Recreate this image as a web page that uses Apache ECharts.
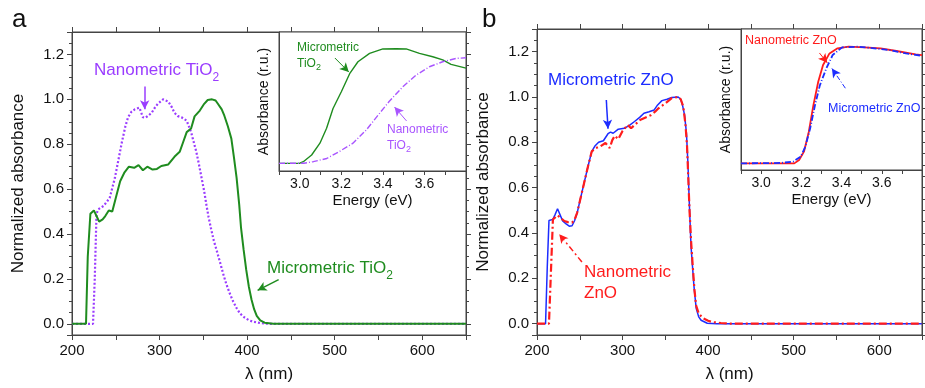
<!DOCTYPE html>
<html>
<head>
<meta charset="utf-8">
<script src="https://cdn.jsdelivr.net/npm/echarts@6/dist/echarts.min.js"></script>
<style>
  html, body { margin: 0; padding: 0; background: #fff; }
  #chart { width: 925px; height: 388px; }
</style>
</head>
<body>
<div id="chart"></div>
<script>
  // main panels: [wavelength nm, normalized absorbance]
  const microTiO2 = [[200, 0], [216, 0], [218, 0.3], [221, 0.49], [225, 0.505], [228, 0.48], [231, 0.455], [235, 0.465], [238, 0.48], [242, 0.505], [246, 0.5], [250, 0.56], [255, 0.635], [260, 0.675], [265, 0.7], [271, 0.695], [276, 0.707], [281, 0.684], [286, 0.7], [292, 0.687], [297, 0.69], [302, 0.703], [310, 0.71], [317, 0.744], [323, 0.766], [327, 0.81], [331, 0.854], [336, 0.87], [340, 0.924], [346, 0.95], [351, 0.98], [355, 0.997], [360, 1.0], [364, 0.995], [367, 0.978], [371, 0.955], [374, 0.927], [378, 0.88], [382, 0.825], [385, 0.74], [388, 0.65], [391, 0.53], [393, 0.43], [396, 0.33], [399, 0.24], [402, 0.165], [405, 0.108], [408, 0.065], [411, 0.035], [415, 0.015], [420, 0.005], [430, 0], [650, 0]];
  const nanoTiO2 = [[200, 0], [224, 0], [226, 0.2], [228, 0.49], [230, 0.51], [236, 0.525], [243, 0.56], [249, 0.65], [253, 0.73], [257, 0.81], [261, 0.88], [264, 0.92], [268, 0.945], [272, 0.956], [277, 0.963], [281, 0.92], [284, 0.918], [288, 0.93], [291, 0.94], [295, 0.965], [298, 0.98], [304, 1.0], [310, 0.99], [314, 0.965], [317, 0.94], [321, 0.925], [325, 0.92], [331, 0.905], [336, 0.854], [339, 0.81], [342, 0.766], [345, 0.71], [348, 0.65], [351, 0.59], [353.5, 0.53], [356, 0.475], [359, 0.42], [362, 0.37], [365, 0.33], [369, 0.275], [372.5, 0.225], [376, 0.18], [380, 0.137], [384, 0.1], [388, 0.07], [392, 0.045], [397, 0.028], [402, 0.016], [407, 0.009], [415, 0.003], [425, 0], [650, 0]];
  const microZnO = [[200, 0], [210, 0], [212, 0.25], [214, 0.455], [218.6, 0.46], [221, 0.48], [224, 0.507], [227, 0.48], [230, 0.453], [234, 0.44], [237.7, 0.43], [241, 0.432], [244, 0.455], [247, 0.49], [251, 0.555], [255, 0.62], [260, 0.7], [264, 0.76], [268, 0.785], [272, 0.8], [277.6, 0.807], [283, 0.838], [286, 0.845], [289, 0.84], [295, 0.858], [302, 0.862], [308, 0.875], [314, 0.892], [320, 0.91], [325, 0.928], [331, 0.935], [337, 0.943], [341, 0.965], [346, 0.984], [352, 0.99], [357.5, 0.998], [365, 1.0], [368, 0.99], [370, 0.965], [372.5, 0.92], [374.7, 0.84], [376.5, 0.7], [377.7, 0.563], [380, 0.343], [383.4, 0.168], [386, 0.069], [389, 0.03], [391.8, 0.015], [399, 0.002], [410, 0], [650, 0]];
  const nanoZnO = [[200, 0], [214, 0], [216, 0.2], [218.6, 0.46], [224, 0.478], [228, 0.465], [232, 0.453], [236, 0.448], [241, 0.446], [244, 0.46], [247, 0.49], [251, 0.555], [255, 0.62], [260, 0.7], [264, 0.76], [269, 0.775], [274, 0.782], [280, 0.797], [285, 0.775], [288, 0.81], [291, 0.829], [295, 0.814], [300, 0.85], [306, 0.877], [310, 0.862], [315, 0.88], [321, 0.9], [327, 0.91], [333, 0.92], [338, 0.935], [342, 0.95], [350, 0.972], [357.5, 0.995], [365, 1.0], [368, 0.99], [371, 0.957], [373.5, 0.88], [375.4, 0.782], [378.4, 0.49], [380, 0.37], [382, 0.256], [384, 0.15], [386, 0.08], [389, 0.045], [393.7, 0.025], [400, 0.013], [405, 0.007], [415, 0.003], [425, 0], [650, 0]];

  // insets: [energy eV, absorbance r.u.]
  const microTiO2Inset = [[2.9, 0.055], [3.0, 0.056], [3.017, 0.067], [3.057, 0.115], [3.097, 0.2], [3.129, 0.307], [3.16, 0.45], [3.2, 0.57], [3.24, 0.7], [3.28, 0.786], [3.336, 0.846], [3.4, 0.878], [3.464, 0.88], [3.512, 0.878], [3.576, 0.846], [3.64, 0.822], [3.688, 0.8], [3.728, 0.767], [3.8, 0.74]];
  const nanoTiO2Inset = [[2.9, 0.055], [3.02, 0.056], [3.065, 0.067], [3.13, 0.09], [3.19, 0.14], [3.256, 0.2], [3.32, 0.295], [3.376, 0.4], [3.43, 0.5], [3.496, 0.606], [3.56, 0.69], [3.624, 0.75], [3.688, 0.786], [3.752, 0.81], [3.8, 0.815]];
  const nanoZnOInset = [[2.9, 0.047], [3.165, 0.047], [3.189, 0.071], [3.213, 0.13], [3.237, 0.27], [3.26, 0.46], [3.284, 0.626], [3.308, 0.745], [3.34, 0.827], [3.38, 0.863], [3.435, 0.875], [3.514, 0.87], [3.594, 0.863], [3.673, 0.844], [3.768, 0.82], [3.8, 0.815]];
  const microZnOInset = [[2.9, 0.047], [3.1, 0.05], [3.16, 0.06], [3.197, 0.094], [3.22, 0.165], [3.244, 0.296], [3.268, 0.46], [3.292, 0.6], [3.324, 0.72], [3.356, 0.816], [3.403, 0.87], [3.482, 0.875], [3.562, 0.863], [3.64, 0.85], [3.72, 0.827], [3.8, 0.81]];

  // annotation arrows, [from, to] in data units
  const arrowNanoTiO2 = [[283, 1.057], [283, 0.956]];
  const arrowMicroTiO2 = [[436, 0.197], [412, 0.149]];
  const arrowMicroZnO = [[281, 0.987], [283, 0.86]];
  const arrowNanoZnO = [[252.5, 0.272], [226, 0.395]];
  const arrowMicroTiO2Inset = [[3.169, 0.813], [3.236, 0.712]];
  const arrowNanoTiO2Inset = [[3.514, 0.36], [3.456, 0.46]];
  const arrowNanoZnOInset = [[3.29, 0.83], [3.329, 0.76]];
  const arrowMicroZnOInset = [[3.419, 0.58], [3.352, 0.72]];

  const FONT = '"Liberation Sans", Arial, sans-serif';
  const AXIS = '#444';
  const GREEN = '#1f8c1f';
  const PURPLE = '#9a3cff';
  const BLUE = '#1c2cff';
  const RED = '#ff1c1c';

  let myChart = echarts.init(document.getElementById('chart'));

  function mainX (grid, top) {
    return {
      type: 'value', gridIndex: grid, min: 200, max: 650, interval: top ? 50 : 100,
      position: top ? 'top' : 'bottom',
      name: top ? '' : 'λ (nm)', nameLocation: 'middle', nameGap: 31,
      nameTextStyle: {fontFamily: FONT, fontSize: 17, color: '#111'},
      axisLine: {show: true, onZero: false, lineStyle: {color: AXIS}},
      axisTick: {show: true, inside: false, length: 5, lineStyle: {color: AXIS}},
      minorTick: {show: !top, splitNumber: 2, length: 5, lineStyle: {color: AXIS}},
      axisLabel: {
        show: !top, margin: 8, fontFamily: FONT, fontSize: 15, color: '#111',
        formatter: function (v) { return v % 100 === 0 && v <= 600 ? String(v) : ''; }
      },
      splitLine: {show: false}
    };
  }

  function mainY (grid, right) {
    return {
      type: 'value', gridIndex: grid, min: -0.05, max: 1.3, splitNumber: 7,
      position: right ? 'right' : 'left',
      name: right ? '' : 'Normalized absorbance', nameLocation: 'middle', nameGap: 45,
      nameTextStyle: {fontFamily: FONT, fontSize: 17, color: '#111'},
      axisLine: {show: true, onZero: false, lineStyle: {color: AXIS}},
      axisTick: {show: true, inside: false, length: 5, lineStyle: {color: AXIS}},
      minorTick: {show: true, splitNumber: 4, length: 3, lineStyle: {color: AXIS}},
      axisLabel: {
        show: !right, margin: 8, fontFamily: FONT, fontSize: 15, color: '#111',
        formatter: function (v) {
          if (v < -1e-9 || v > 1.21) return '';
          return Math.abs(v * 5 - Math.round(v * 5)) < 1e-6 ? v.toFixed(1) : '';
        }
      },
      splitLine: {show: false}
    };
  }

  function insetX (grid) {
    return {
      type: 'value', gridIndex: grid, min: 2.9, max: 3.8, interval: 0.1, z: 6,
      name: 'Energy (eV)', nameLocation: 'middle', nameGap: 22,
      nameTextStyle: {fontFamily: FONT, fontSize: 15, color: '#111'},
      axisLine: {show: true, onZero: false, lineStyle: {color: AXIS}},
      axisTick: {show: true, inside: false, length: 4, lineStyle: {color: AXIS}},
      axisLabel: {
        margin: 6, fontFamily: FONT, fontSize: 14, color: '#111',
        formatter: function (v) {
          let k = Math.round(v * 10);
          return (k % 2 === 0 && k >= 30 && k <= 36) ? v.toFixed(1) : '';
        }
      },
      splitLine: {show: false}
    };
  }

  function insetY (grid) {
    return {
      type: 'value', gridIndex: grid, min: 0, max: 1, z: 6,
      name: 'Absorbance (r.u.)', nameLocation: 'middle', nameGap: 8,
      nameTextStyle: {fontFamily: FONT, fontSize: 14, color: '#111'},
      axisLine: {show: true, onZero: false, lineStyle: {color: AXIS}},
      axisTick: {show: false},
      axisLabel: {show: false},
      splitLine: {show: false}
    };
  }

  function arrow (pts, color, type, width) {
    return {
      silent: true, symbol: ['none', 'arrow'], symbolSize: [7, 9],
      label: {show: false},
      lineStyle: {color: color, type: type, width: width},
      data: [[{coord: pts[0]}, {coord: pts[1]}]]
    };
  }

  function line (name, data, xi, yi, color, width, type, z, mark) {
    return {
      name: name, type: 'line', data: data, xAxisIndex: xi, yAxisIndex: yi,
      showSymbol: false, symbol: 'none', z: z,
      lineStyle: {color: color, width: width, type: type},
      markLine: mark
    };
  }

  // lh: line height of the text, the subscript sits at the bottom of it
  function label (x, y, text, color, size, sub, lh) {
    return {
      type: 'text', x: x, y: y, z: 100,
      style: {
        text: text, fill: color, font: size + 'px ' + FONT,
        rich: {
          m: {fontFamily: FONT, fontSize: size, fill: color, lineHeight: lh},
          s: {fontFamily: FONT, fontSize: sub, fill: color, lineHeight: sub, verticalAlign: 'bottom'}
        }
      }
    };
  }

  myChart.setOption({
    animation: false,
    grid: [
      {left: 72, top: 32, width: 394, height: 307, show: true, borderColor: AXIS, borderWidth: 1, backgroundColor: '#fff'},
      {left: 537, top: 29, width: 394, height: 308, show: true, borderColor: AXIS, borderWidth: 1, backgroundColor: '#fff'},
      {left: 279, top: 32, width: 187, height: 139, show: true, borderColor: AXIS, borderWidth: 1, backgroundColor: '#fff', z: 4},
      {left: 741, top: 29, width: 189, height: 141, show: true, borderColor: AXIS, borderWidth: 1, backgroundColor: '#fff', z: 4}
    ],
    xAxis: [mainX(0, false), mainX(0, true), mainX(1, false), mainX(1, true), insetX(2), insetX(3)],
    yAxis: [mainY(0, false), mainY(0, true), mainY(1, false), mainY(1, true), insetY(2), insetY(3)],
    series: [
      line('Nanometric TiO2', nanoTiO2, 0, 0, PURPLE, 2.2, [2, 2], 2, arrow(arrowNanoTiO2, PURPLE, 'solid', 1.5)),
      line('Micrometric TiO2', microTiO2, 0, 0, GREEN, 2, 'solid', 3, arrow(arrowMicroTiO2, GREEN, 'solid', 1.5)),
      line('Micrometric ZnO', microZnO, 2, 2, BLUE, 1.5, 'solid', 2, arrow(arrowMicroZnO, BLUE, 'solid', 1.5)),
      line('Nanometric ZnO', nanoZnO, 2, 2, RED, 2.2, [8, 3, 2, 3], 3, arrow(arrowNanoZnO, RED, [6, 3, 2, 3], 1.5)),
      line('Micrometric TiO2 inset', microTiO2Inset, 4, 4, GREEN, 1.4, 'solid', 8, arrow(arrowMicroTiO2Inset, GREEN, 'solid', 1)),
      line('Nanometric TiO2 inset', nanoTiO2Inset, 4, 4, '#a955ff', 1.4, [6, 2, 1, 2], 8, arrow(arrowNanoTiO2Inset, '#a955ff', 'solid', 1)),
      line('Micrometric ZnO inset', microZnOInset, 5, 5, BLUE, 1.8, [6, 2, 1, 2], 9, arrow(arrowMicroZnOInset, BLUE, [5, 2, 1, 2], 1)),
      line('Nanometric ZnO inset', nanoZnOInset, 5, 5, RED, 1.8, 'solid', 8, arrow(arrowNanoZnOInset, RED, 'solid', 1))
    ],
    graphic: [
      {type: 'text', x: 12, y: 7, z: 100, style: {text: 'a', font: '26px ' + FONT, fill: '#111'}},
      {type: 'text', x: 482, y: 7, z: 100, style: {text: 'b', font: '26px ' + FONT, fill: '#111'}},
      label(94, 57, '{m|Nanometric TiO}{s|2}', PURPLE, 17, 12, 27),
      label(267, 255, '{m|Micrometric TiO}{s|2}', GREEN, 17, 12, 27),
      label(297, 40, '{m|Micrometric}\n{m|TiO}{s|2}', GREEN, 12, 9, 16),
      label(387, 122, '{m|Nanometric}\n{m|TiO}{s|2}', '#a955ff', 12, 9, 16),
      label(548, 70, '{m|Micrometric ZnO}', BLUE, 17, 12, 20),
      label(584, 262, '{m|Nanometric}\n{m|ZnO}', RED, 17, 12, 21),
      label(745, 33, '{m|Nanometric ZnO}', RED, 12.5, 9, 15),
      label(828, 101, '{m|Micrometric ZnO}', BLUE, 12.5, 9, 15)
    ]
  });
</script>
</body>
</html>
